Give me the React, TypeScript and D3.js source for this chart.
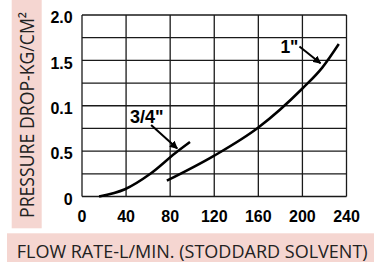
import React from "react";
import * as d3 from "d3";

const W = 374;
const H = 262;

const xTicks = [0, 40, 80, 120, 160, 200, 240];
const yTickValues = [0, 0.5, 1, 1.5, 2];
const yTickLabels = ["0", "0.5", "0.1", "1.5", "2.0"];
const yGridValues = [0, 0.25, 0.5, 0.75, 1, 1.25, 1.5, 1.75, 2];

const flow34 = [15.5, 39, 62, 84.5, 98];
const pressure34 = [0.0, 0.08, 0.25, 0.476, 0.6];
const flow1 = [77, 120, 160, 200, 218, 233];
const pressure1 = [0.174, 0.45, 0.76, 1.19, 1.42, 1.68];

const labels = ['3/4"', '1"'];
const labelFlow = [43.6, 180];
const labelPressure = [0.81, 1.58];
const arrowFromFlow = [62.7, 197.3];
const arrowFromPressure = [0.788, 1.653];
const arrowToFlow = [86.4, 216.4];
const arrowToPressure = [0.529, 1.468];

const xTitle = "FLOW RATE-L/MIN. (STODDARD SOLVENT)";
const yTitle = "PRESSURE DROP-KG/CM²";

export default function App() {
  const x = d3.scaleLinear().domain([0, 240]).range([82, 346.5]);
  const y = d3.scaleLinear().domain([0, 2]).range([196.5, 15]);

  const line = d3
    .line<[number, number]>()
    .x((d) => x(d[0]))
    .y((d) => y(d[1]))
    .curve(d3.curveMonotoneX);

  const path34 = line(flow34.map((f, i) => [f, pressure34[i]]));
  const path1 = line(flow1.map((f, i) => [f, pressure1[i]]));

  const gridColor = "#1a1a1a";
  const bold = "'Liberation Sans', Arial, sans-serif";
  const titleFont = "'Open Sans', 'Noto Sans', sans-serif";

  return (
    <svg
      width={W}
      height={H}
      style={{ position: "absolute", left: 0, top: 0, background: "#fff" }}
    >
      <defs>
        <marker
          id="ah"
          viewBox="0 0 10 10"
          refX="9"
          refY="5"
          markerWidth="4"
          markerHeight="4"
          orient="auto"
          markerUnits="strokeWidth"
        >
          <path d="M0,0 L10,5 L0,10 z" fill="#000" />
        </marker>
      </defs>
      {/* y title box */}
      <rect x={11.7} y={0} width={30} height={228.3} fill="#f5d6d1" />
      <text
        transform={`translate(34,218) rotate(-90)`}
        fontFamily={titleFont}
        fontSize={19.5}
        fill="#222"
        textLength={206}
        lengthAdjust="spacingAndGlyphs"
      >
        {yTitle}
      </text>
      {/* x title box */}
      <rect x={7} y={233.3} width={367} height={29} fill="#f5d6d1" />
      <text
        x={16.7}
        y={257.8}
        fontFamily={titleFont}
        fontSize={18.4}
        fill="#222"
        textLength={351}
        lengthAdjust="spacingAndGlyphs"
      >
        {xTitle}
      </text>

      {/* grid */}
      {xTicks.map((t) => (
        <line
          key={"vx" + t}
          x1={x(t)}
          x2={x(t)}
          y1={y(2)}
          y2={y(0)}
          stroke={gridColor}
          strokeWidth={1.3}
        />
      ))}
      {yGridValues.map((v) => (
        <line
          key={"hy" + v}
          x1={x(0)}
          x2={x(240)}
          y1={y(v)}
          y2={y(v)}
          stroke={gridColor}
          strokeWidth={1.3}
        />
      ))}

      {/* tick labels */}
      {xTicks.map((t) => (
        <text
          key={"xt" + t}
          x={x(t)}
          y={221.8}
          textAnchor="middle"
          fontFamily={bold}
          fontWeight="bold"
          fontSize={16}
          fill="#000"
        >
          {t}
        </text>
      ))}
      {yTickValues.map((v, i) => (
        <text
          key={"yt" + v}
          x={72.7}
          y={y(v) + 8.3}
          textAnchor="end"
          fontFamily={bold}
          fontWeight="bold"
          fontSize={16}
          fill="#000"
        >
          {yTickLabels[i]}
        </text>
      ))}

      {/* curves */}
      <path d={path34 || ""} fill="none" stroke="#000" strokeWidth={2.5} />
      <path d={path1 || ""} fill="none" stroke="#000" strokeWidth={2.5} />

      {/* annotations */}
      {labels.map((l, i) => (
        <g key={"lab" + i}>
          <text
            x={x(labelFlow[i])}
            y={y(labelPressure[i])}
            fontFamily={bold}
            fontWeight="bold"
            fontSize={i === 0 ? 18 : 17.5}
            fill="#000"
          >
            {l}
          </text>
          <line
            x1={x(arrowFromFlow[i])}
            y1={y(arrowFromPressure[i])}
            x2={x(arrowToFlow[i])}
            y2={y(arrowToPressure[i])}
            stroke="#000"
            strokeWidth={2}
            markerEnd="url(#ah)"
          />
        </g>
      ))}
    </svg>
  );
}
